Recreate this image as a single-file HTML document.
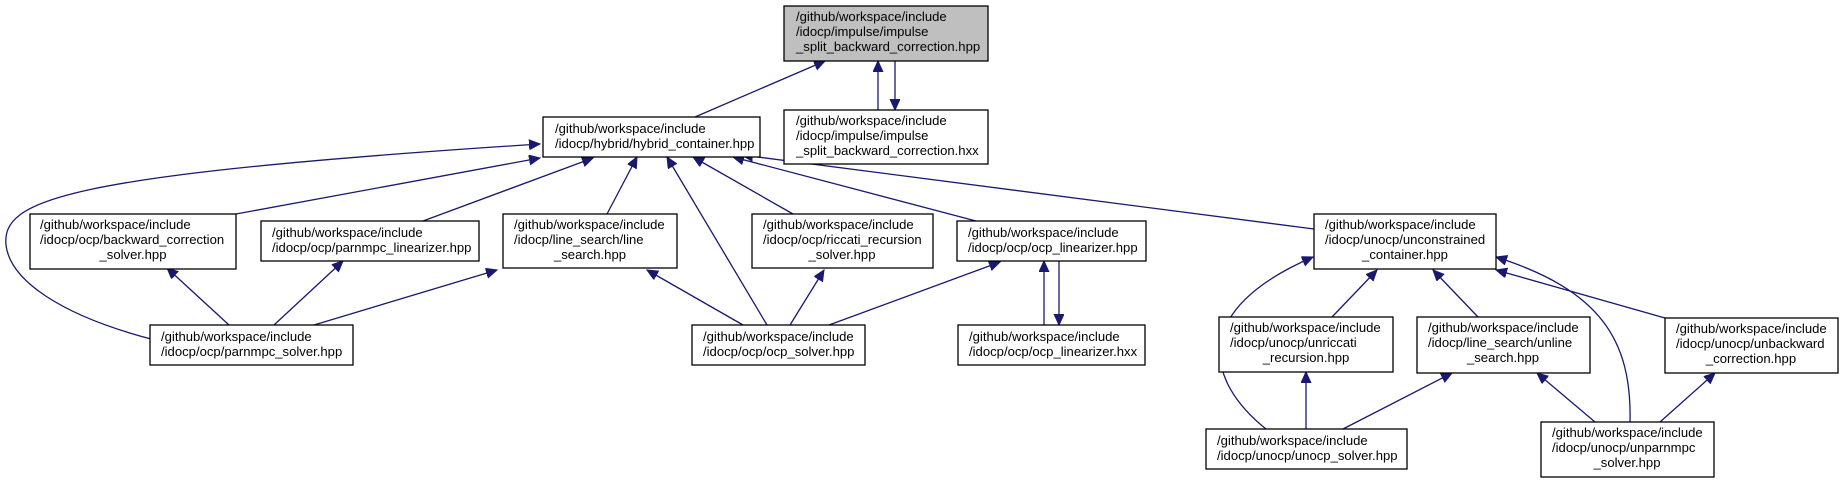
<!DOCTYPE html>
<html><head><meta charset="utf-8"><style>
html,body{margin:0;padding:0;background:#fff;}
svg{display:block;}
text{font-family:"Liberation Sans",Arial,sans-serif;font-size:13.1px;fill:#000;}
.b{fill:#fff;stroke:#000;stroke-width:1.3;}
.e{fill:none;stroke:#191970;stroke-width:1.3;}
</style></head><body>
<svg width="1844" height="483" viewBox="0 0 1844 483" xmlns="http://www.w3.org/2000/svg">
<defs>
<marker id="a" markerUnits="userSpaceOnUse" markerWidth="14" markerHeight="12" refX="11" refY="5" orient="auto">
<path d="M0,0 L11,5 L0,10 z" fill="#191970" stroke="#191970"/>
</marker>
</defs>
<g class="e" marker-end="url(#a)">
<path d="M695,117 L825,61"/>
<path d="M878,110 L878,61"/>
<path d="M895,61 L895,110"/>
<path d="M236,214 L540,158"/>
<path d="M423,221 L593,158"/>
<path d="M607,214 L637,157"/>
<path d="M767,325 L667,157"/>
<path d="M793,214 L693,157"/>
<path d="M976,221 L733,157"/>
<path d="M1314,229 L742,155"/>
<path d="M151,339 C60,315 10,280 6,245 C2,200 60,175 540,144"/>
<path d="M229,325 L167,268"/>
<path d="M274,325 L343,261"/>
<path d="M314,325 L497,270"/>
<path d="M743,325 L647,270"/>
<path d="M790,325 L824,270"/>
<path d="M829,325 L1000,262"/>
<path d="M1044,325 L1044,261"/>
<path d="M1059,261 L1059,325"/>
<path d="M1332,317 L1377,270"/>
<path d="M1478,317 L1433,270"/>
<path d="M1665,318 L1496,270"/>
<path d="M1630,422 C1632,340 1600,290 1496,257"/>
<path d="M1266,429 C1205,380 1190,310 1313,257"/>
<path d="M1306,429 L1306,372"/>
<path d="M1343,429 L1452,373"/>
<path d="M1595,422 L1537,373"/>
<path d="M1660,422 L1715,373"/>
</g>

<rect x="784" y="6" width="204" height="55" fill="#bfbfbf" stroke="#000" stroke-width="1.3"/>
<text x="796" y="21">/github/workspace/include</text>
<text x="796" y="36">/idocp/impulse/impulse</text>
<text x="796" y="51">_split_backward_correction.hpp</text>

<rect class="b" x="784" y="110" width="204" height="54"/>
<text x="796" y="125">/github/workspace/include</text>
<text x="796" y="140">/idocp/impulse/impulse</text>
<text x="796" y="155">_split_backward_correction.hxx</text>

<rect class="b" x="543" y="117" width="217" height="40"/>
<text x="555" y="133">/github/workspace/include</text>
<text x="555" y="148">/idocp/hybrid/hybrid_container.hpp</text>

<rect class="b" x="30" y="214" width="206" height="55"/>
<text x="40" y="229">/github/workspace/include</text>
<text x="40" y="244">/idocp/ocp/backward_correction</text>
<text x="133" y="259" text-anchor="middle">_solver.hpp</text>

<rect class="b" x="261" y="221" width="218" height="40"/>
<text x="272" y="237">/github/workspace/include</text>
<text x="272" y="252">/idocp/ocp/parnmpc_linearizer.hpp</text>

<rect class="b" x="503" y="214" width="174" height="54"/>
<text x="514" y="229">/github/workspace/include</text>
<text x="514" y="244">/idocp/line_search/line</text>
<text x="590" y="259" text-anchor="middle">_search.hpp</text>

<rect class="b" x="752" y="214" width="181" height="54"/>
<text x="763" y="229">/github/workspace/include</text>
<text x="763" y="244">/idocp/ocp/riccati_recursion</text>
<text x="842" y="259" text-anchor="middle">_solver.hpp</text>

<rect class="b" x="957" y="221" width="189" height="40"/>
<text x="968" y="237">/github/workspace/include</text>
<text x="968" y="252">/idocp/ocp/ocp_linearizer.hpp</text>

<rect class="b" x="1314" y="214" width="182" height="55"/>
<text x="1325" y="229">/github/workspace/include</text>
<text x="1325" y="244">/idocp/unocp/unconstrained</text>
<text x="1405" y="259" text-anchor="middle">_container.hpp</text>

<rect class="b" x="150" y="325" width="203" height="40"/>
<text x="161" y="341">/github/workspace/include</text>
<text x="161" y="356">/idocp/ocp/parnmpc_solver.hpp</text>

<rect class="b" x="692" y="325" width="173" height="40"/>
<text x="703" y="341">/github/workspace/include</text>
<text x="703" y="356">/idocp/ocp/ocp_solver.hpp</text>

<rect class="b" x="958" y="325" width="187" height="40"/>
<text x="969" y="341">/github/workspace/include</text>
<text x="969" y="356">/idocp/ocp/ocp_linearizer.hxx</text>

<rect class="b" x="1219" y="317" width="174" height="55"/>
<text x="1230" y="332">/github/workspace/include</text>
<text x="1230" y="347">/idocp/unocp/unriccati</text>
<text x="1306" y="362" text-anchor="middle">_recursion.hpp</text>

<rect class="b" x="1417" y="317" width="173" height="56"/>
<text x="1428" y="332">/github/workspace/include</text>
<text x="1428" y="347">/idocp/line_search/unline</text>
<text x="1503" y="362" text-anchor="middle">_search.hpp</text>

<rect class="b" x="1665" y="318" width="173" height="55"/>
<text x="1676" y="333">/github/workspace/include</text>
<text x="1676" y="348">/idocp/unocp/unbackward</text>
<text x="1751" y="363" text-anchor="middle">_correction.hpp</text>

<rect class="b" x="1206" y="429" width="201" height="40"/>
<text x="1217" y="445">/github/workspace/include</text>
<text x="1217" y="460">/idocp/unocp/unocp_solver.hpp</text>

<rect class="b" x="1541" y="422" width="173" height="55"/>
<text x="1552" y="437">/github/workspace/include</text>
<text x="1552" y="452">/idocp/unocp/unparnmpc</text>
<text x="1627" y="467" text-anchor="middle">_solver.hpp</text>
</svg>
</body></html>
